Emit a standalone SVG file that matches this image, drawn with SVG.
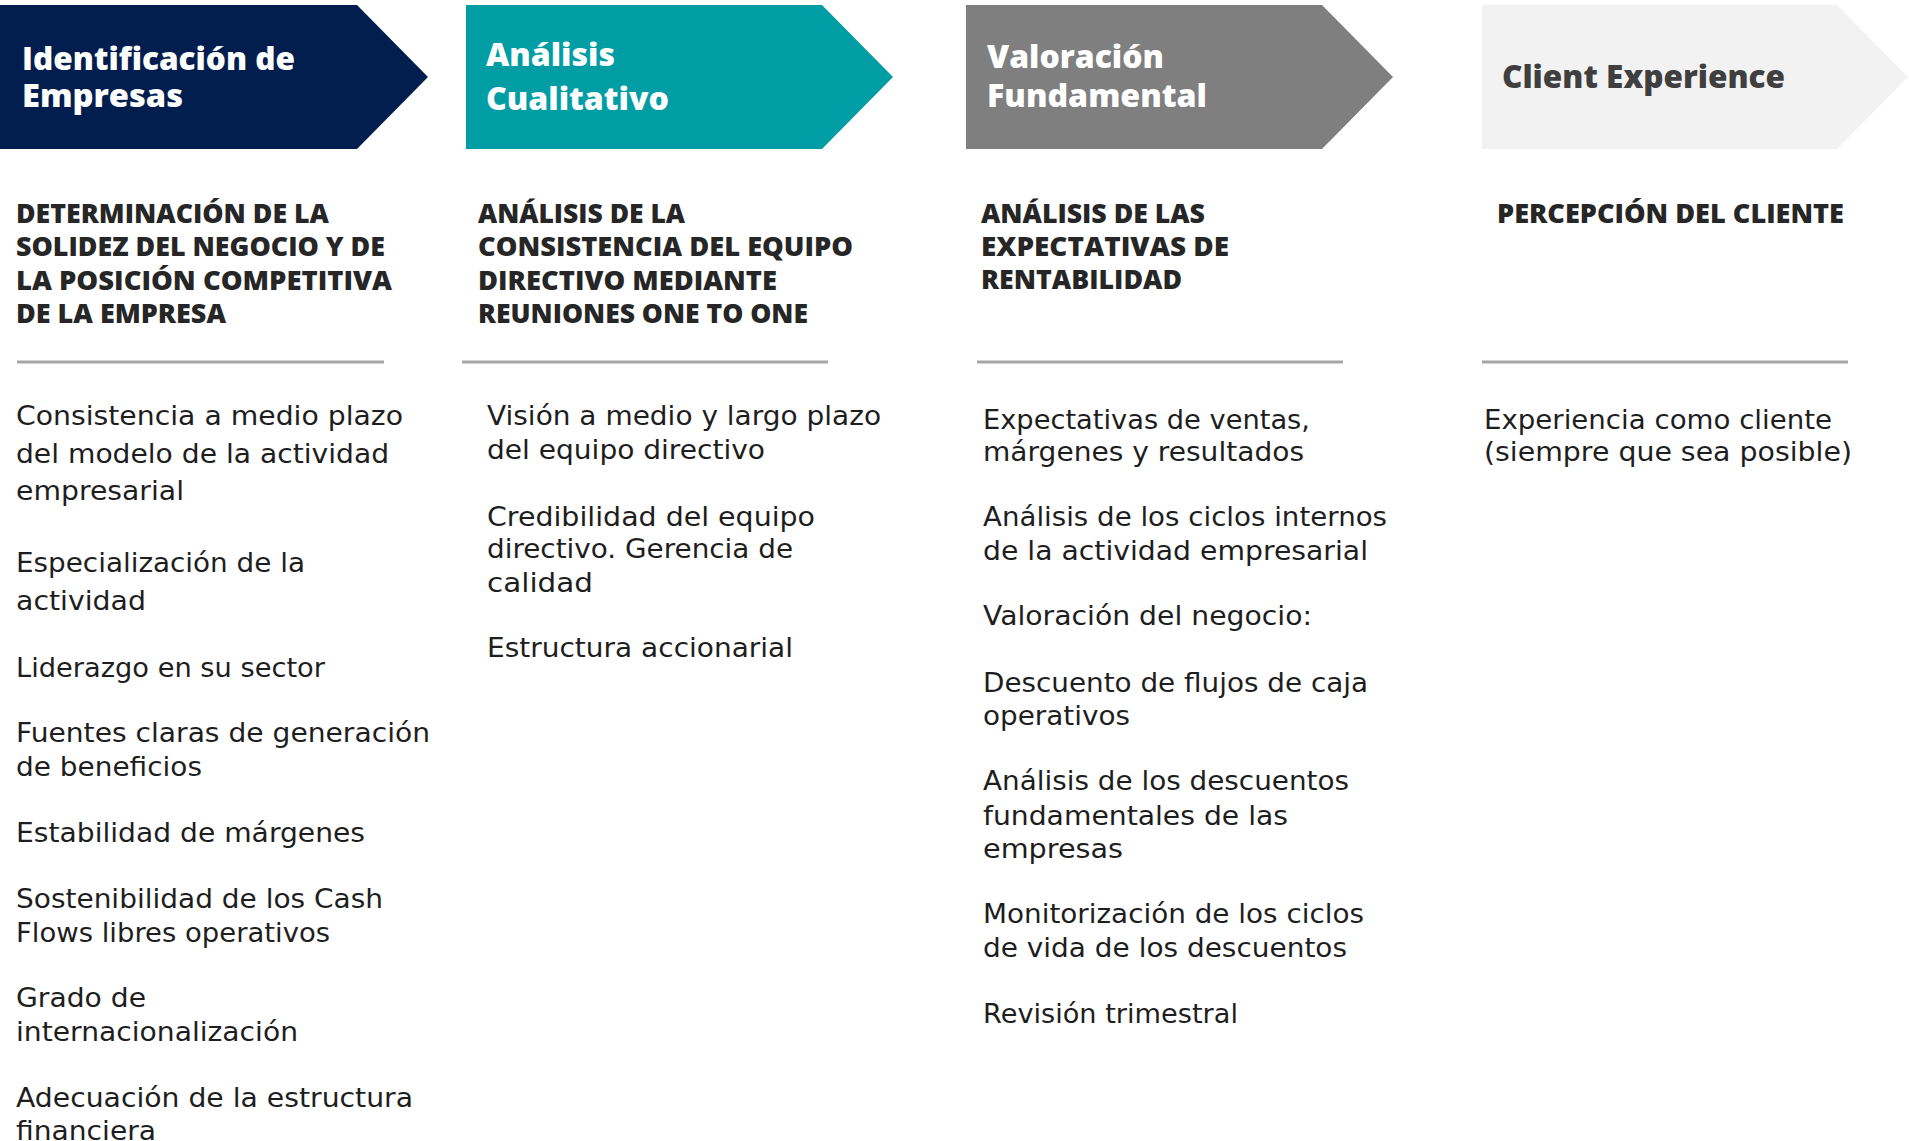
<svg xmlns="http://www.w3.org/2000/svg" width="1909" height="1141" viewBox="0 0 1909 1141">
<style>
.title{font-family:"Open Sans","Liberation Sans",sans-serif;font-weight:800;font-size:32px;fill:#ffffff}
.title.dark{fill:#3f3f3f}
.head{font-family:"Open Sans","Liberation Sans",sans-serif;font-weight:800;font-size:27px;fill:#262626}
.body{font-family:"DejaVu Sans","Liberation Sans",sans-serif;font-size:26px;fill:#1e1e1e}
.rule{stroke:#a6a6a6;stroke-width:3;fill:none}
</style>
<rect x="0" y="0" width="1909" height="1141" fill="#ffffff"/>

<g id="stage-identificacion">
<polygon points="0,5 357,5 428,77 357,149 0,149" fill="#011e4e"/>
<text class="title" x="22" y="70" textLength="273" lengthAdjust="spacingAndGlyphs">Identificación de</text>
<text class="title" x="22" y="107" textLength="161" lengthAdjust="spacingAndGlyphs">Empresas</text>
<text class="head" x="16" y="223" textLength="313" lengthAdjust="spacingAndGlyphs">DETERMINACIÓN DE LA</text>
<text class="head" x="16" y="256" textLength="369" lengthAdjust="spacingAndGlyphs">SOLIDEZ DEL NEGOCIO Y DE</text>
<text class="head" x="16" y="290" textLength="376" lengthAdjust="spacingAndGlyphs">LA POSICIÓN COMPETITIVA</text>
<text class="head" x="16" y="323" textLength="210" lengthAdjust="spacingAndGlyphs">DE LA EMPRESA</text>
<line class="rule" x1="17" y1="362" x2="384" y2="362"/>
<text class="body" x="16" y="425" textLength="387" lengthAdjust="spacingAndGlyphs">Consistencia a medio plazo</text>
<text class="body" x="16" y="463" textLength="373" lengthAdjust="spacingAndGlyphs">del modelo de la actividad</text>
<text class="body" x="16" y="500" textLength="168" lengthAdjust="spacingAndGlyphs">empresarial</text>
<text class="body" x="16" y="572" textLength="289" lengthAdjust="spacingAndGlyphs">Especialización de la</text>
<text class="body" x="16" y="610" textLength="130" lengthAdjust="spacingAndGlyphs">actividad</text>
<text class="body" x="16" y="677" textLength="309" lengthAdjust="spacingAndGlyphs">Liderazgo en su sector</text>
<text class="body" x="16" y="742" textLength="414" lengthAdjust="spacingAndGlyphs">Fuentes claras de generación</text>
<text class="body" x="16" y="776" textLength="186" lengthAdjust="spacingAndGlyphs">de beneficios</text>
<text class="body" x="16" y="842" textLength="349" lengthAdjust="spacingAndGlyphs">Estabilidad de márgenes</text>
<text class="body" x="16" y="908" textLength="367" lengthAdjust="spacingAndGlyphs">Sostenibilidad de los Cash</text>
<text class="body" x="16" y="942" textLength="314" lengthAdjust="spacingAndGlyphs">Flows libres operativos</text>
<text class="body" x="16" y="1007" textLength="130" lengthAdjust="spacingAndGlyphs">Grado de</text>
<text class="body" x="16" y="1041" textLength="282" lengthAdjust="spacingAndGlyphs">internacionalización</text>
<text class="body" x="16" y="1107" textLength="397" lengthAdjust="spacingAndGlyphs">Adecuación de la estructura</text>
<text class="body" x="16" y="1140" textLength="140" lengthAdjust="spacingAndGlyphs">financiera</text>
</g>

<g id="stage-cualitativo">
<polygon points="466,5 822,5 893,77 822,149 466,149" fill="#009da5"/>
<text class="title" x="486" y="66" textLength="129" lengthAdjust="spacingAndGlyphs">Análisis</text>
<text class="title" x="486" y="110" textLength="183" lengthAdjust="spacingAndGlyphs">Cualitativo</text>
<text class="head" x="478" y="223" textLength="207" lengthAdjust="spacingAndGlyphs">ANÁLISIS DE LA</text>
<text class="head" x="478" y="256" textLength="375" lengthAdjust="spacingAndGlyphs">CONSISTENCIA DEL EQUIPO</text>
<text class="head" x="478" y="290" textLength="299" lengthAdjust="spacingAndGlyphs">DIRECTIVO MEDIANTE</text>
<text class="head" x="478" y="323" textLength="330" lengthAdjust="spacingAndGlyphs">REUNIONES ONE TO ONE</text>
<line class="rule" x1="462" y1="362" x2="828" y2="362"/>
<text class="body" x="487" y="425" textLength="394" lengthAdjust="spacingAndGlyphs">Visión a medio y largo plazo</text>
<text class="body" x="487" y="459" textLength="278" lengthAdjust="spacingAndGlyphs">del equipo directivo</text>
<text class="body" x="487" y="526" textLength="328" lengthAdjust="spacingAndGlyphs">Credibilidad del equipo</text>
<text class="body" x="487" y="558" textLength="306" lengthAdjust="spacingAndGlyphs">directivo. Gerencia de</text>
<text class="body" x="487" y="592" textLength="106" lengthAdjust="spacingAndGlyphs">calidad</text>
<text class="body" x="487" y="657" textLength="306" lengthAdjust="spacingAndGlyphs">Estructura accionarial</text>
</g>

<g id="stage-valoracion">
<polygon points="966,5 1322,5 1393,77 1322,149 966,149" fill="#7f7f7f"/>
<text class="title" x="987" y="68" textLength="177" lengthAdjust="spacingAndGlyphs">Valoración</text>
<text class="title" x="987" y="107" textLength="220" lengthAdjust="spacingAndGlyphs">Fundamental</text>
<text class="head" x="981" y="223" textLength="224" lengthAdjust="spacingAndGlyphs">ANÁLISIS DE LAS</text>
<text class="head" x="981" y="256" textLength="248" lengthAdjust="spacingAndGlyphs">EXPECTATIVAS DE</text>
<text class="head" x="981" y="289" textLength="201" lengthAdjust="spacingAndGlyphs">RENTABILIDAD</text>
<line class="rule" x1="977" y1="362" x2="1343" y2="362"/>
<text class="body" x="983" y="429" textLength="327" lengthAdjust="spacingAndGlyphs">Expectativas de ventas,</text>
<text class="body" x="983" y="461" textLength="321" lengthAdjust="spacingAndGlyphs">márgenes y resultados</text>
<text class="body" x="983" y="526" textLength="404" lengthAdjust="spacingAndGlyphs">Análisis de los ciclos internos</text>
<text class="body" x="983" y="560" textLength="385" lengthAdjust="spacingAndGlyphs">de la actividad empresarial</text>
<text class="body" x="983" y="625" textLength="329" lengthAdjust="spacingAndGlyphs">Valoración del negocio:</text>
<text class="body" x="983" y="692" textLength="385" lengthAdjust="spacingAndGlyphs">Descuento de flujos de caja</text>
<text class="body" x="983" y="725" textLength="147" lengthAdjust="spacingAndGlyphs">operativos</text>
<text class="body" x="983" y="790" textLength="366" lengthAdjust="spacingAndGlyphs">Análisis de los descuentos</text>
<text class="body" x="983" y="825" textLength="305" lengthAdjust="spacingAndGlyphs">fundamentales de las</text>
<text class="body" x="983" y="858" textLength="140" lengthAdjust="spacingAndGlyphs">empresas</text>
<text class="body" x="983" y="923" textLength="381" lengthAdjust="spacingAndGlyphs">Monitorización de los ciclos</text>
<text class="body" x="983" y="957" textLength="364" lengthAdjust="spacingAndGlyphs">de vida de los descuentos</text>
<text class="body" x="983" y="1023" textLength="255" lengthAdjust="spacingAndGlyphs">Revisión trimestral</text>
</g>

<g id="stage-client-experience">
<polygon points="1482,5 1837,5 1908,77 1837,149 1482,149" fill="#f2f2f2"/>
<text class="title dark" x="1502" y="88" textLength="283" lengthAdjust="spacingAndGlyphs">Client Experience</text>
<text class="head" x="1497" y="223" textLength="347" lengthAdjust="spacingAndGlyphs">PERCEPCIÓN DEL CLIENTE</text>
<line class="rule" x1="1482" y1="362" x2="1848" y2="362"/>
<text class="body" x="1484" y="429" textLength="348" lengthAdjust="spacingAndGlyphs">Experiencia como cliente</text>
<text class="body" x="1484" y="461" textLength="368" lengthAdjust="spacingAndGlyphs">(siempre que sea posible)</text>
</g>
</svg>
